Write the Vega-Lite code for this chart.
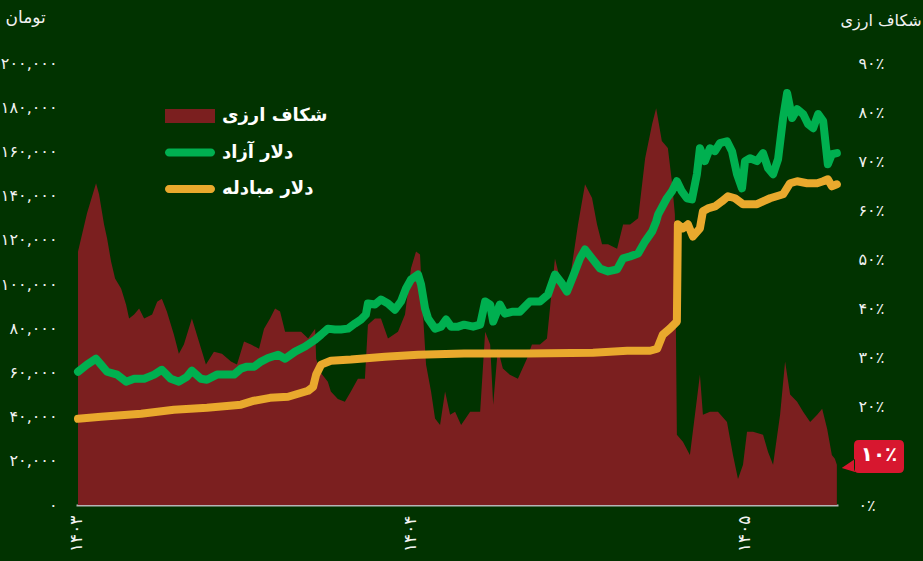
{
  "$schema": "https://vega.github.io/schema/vega-lite/v6.json",
  "width": 762,
  "height": 442,
  "autosize": {"type": "none"},
  "padding": {"left": 76, "top": 63, "right": 85, "bottom": 56},
  "background": "#013300",
  "config": {
    "view": {"stroke": null},
    "font": "DejaVu Sans",
    "axis": {"grid": false, "ticks": false, "domain": false, "labelColor": "#f2f2f2", "titleColor": "#f2f2f2", "labelFontSize": 16, "titleFontWeight": "normal", "labelFont": "DejaVu Sans", "titleFont": "DejaVu Sans"},
    "legend": {"labelFont": "DejaVu Sans"}
  },
  "datasets": {
    "gap": [
      {"t":1403.006,"v":51.6},{"t":1403.033,"v":59.4},{"t":1403.060,"v":65.5},{"t":1403.069,"v":63.3},{"t":1403.084,"v":57.1},{"t":1403.093,"v":54.3},{"t":1403.105,"v":49.6},{"t":1403.117,"v":46.1},{"t":1403.135,"v":44.1},{"t":1403.150,"v":40.8},{"t":1403.159,"v":38.0},{"t":1403.174,"v":38.8},{"t":1403.189,"v":40.0},{"t":1403.204,"v":38.0},{"t":1403.228,"v":38.8},{"t":1403.243,"v":41.4},{"t":1403.257,"v":42.0},{"t":1403.272,"v":39.4},{"t":1403.293,"v":34.7},{"t":1403.308,"v":30.8},{"t":1403.323,"v":32.7},{"t":1403.347,"v":38.0},{"t":1403.368,"v":33.3},{"t":1403.389,"v":28.6},{"t":1403.413,"v":31.2},{"t":1403.437,"v":30.8},{"t":1403.464,"v":29.2},{"t":1403.482,"v":28.6},{"t":1403.503,"v":33.3},{"t":1403.524,"v":32.7},{"t":1403.548,"v":31.8},{"t":1403.563,"v":35.9},{"t":1403.581,"v":38.0},{"t":1403.596,"v":40.0},{"t":1403.611,"v":39.4},{"t":1403.626,"v":35.3},{"t":1403.644,"v":35.3},{"t":1403.674,"v":35.3},{"t":1403.695,"v":33.9},{"t":1403.716,"v":35.9},{"t":1403.719,"v":29.8},{"t":1403.731,"v":27.1},{"t":1403.754,"v":25.1},{"t":1403.763,"v":23.1},{"t":1403.784,"v":21.6},{"t":1403.805,"v":21.0},{"t":1403.823,"v":23.1},{"t":1403.844,"v":25.7},{"t":1403.865,"v":25.7},{"t":1403.874,"v":36.7},{"t":1403.895,"v":38.0},{"t":1403.913,"v":38.0},{"t":1403.934,"v":33.9},{"t":1403.964,"v":35.3},{"t":1403.985,"v":38.8},{"t":1404.003,"v":48.2},{"t":1404.018,"v":51.6},{"t":1404.030,"v":51.0},{"t":1404.039,"v":38.8},{"t":1404.048,"v":28.6},{"t":1404.063,"v":23.1},{"t":1404.075,"v":17.6},{"t":1404.090,"v":16.3},{"t":1404.105,"v":23.1},{"t":1404.120,"v":18.4},{"t":1404.135,"v":19.0},{"t":1404.153,"v":16.3},{"t":1404.180,"v":19.0},{"t":1404.210,"v":19.0},{"t":1404.225,"v":35.3},{"t":1404.240,"v":32.7},{"t":1404.249,"v":20.4},{"t":1404.263,"v":31.8},{"t":1404.278,"v":27.8},{"t":1404.299,"v":26.5},{"t":1404.323,"v":25.7},{"t":1404.350,"v":29.8},{"t":1404.365,"v":32.7},{"t":1404.389,"v":32.7},{"t":1404.410,"v":33.9},{"t":1404.434,"v":50.2},{"t":1404.458,"v":43.5},{"t":1404.479,"v":46.1},{"t":1404.503,"v":57.1},{"t":1404.524,"v":65.3},{"t":1404.545,"v":62.5},{"t":1404.560,"v":57.1},{"t":1404.575,"v":53.1},{"t":1404.593,"v":53.1},{"t":1404.620,"v":52.2},{"t":1404.638,"v":57.1},{"t":1404.659,"v":57.1},{"t":1404.683,"v":58.4},{"t":1404.704,"v":70.6},{"t":1404.725,"v":77.6},{"t":1404.737,"v":80.8},{"t":1404.754,"v":74.1},{"t":1404.772,"v":72.7},{"t":1404.784,"v":65.9},{"t":1404.793,"v":59.2},{"t":1404.799,"v":14.3},{"t":1404.817,"v":12.9},{"t":1404.838,"v":10.2},{"t":1404.859,"v":21.6},{"t":1404.868,"v":26.5},{"t":1404.877,"v":18.4},{"t":1404.898,"v":19.0},{"t":1404.922,"v":19.0},{"t":1404.949,"v":16.9},{"t":1404.967,"v":10.2},{"t":1404.982,"v":5.3},{"t":1404.997,"v":8.2},{"t":1405.009,"v":14.9},{"t":1405.027,"v":14.9},{"t":1405.057,"v":14.3},{"t":1405.072,"v":10.8},{"t":1405.087,"v":8.2},{"t":1405.108,"v":18.4},{"t":1405.123,"v":29.2},{"t":1405.138,"v":22.5},{"t":1405.159,"v":21.0},{"t":1405.177,"v":19.0},{"t":1405.198,"v":16.9},{"t":1405.219,"v":18.4},{"t":1405.234,"v":19.6},{"t":1405.249,"v":15.5},{"t":1405.263,"v":10.2},{"t":1405.272,"v":9.4},{"t":1405.278,"v":8.2}
    ],
    "prices": [
      {"s":"دلار آزاد","t":1403.006,"v":60300},{"s":"دلار آزاد","t":1403.033,"v":63500},{"s":"دلار آزاد","t":1403.060,"v":66200},{"s":"دلار آزاد","t":1403.075,"v":63500},{"s":"دلار آزاد","t":1403.093,"v":60300},{"s":"دلار آزاد","t":1403.123,"v":59000},{"s":"دلار آزاد","t":1403.150,"v":55800},{"s":"دلار آزاد","t":1403.174,"v":57100},{"s":"دلار آزاد","t":1403.204,"v":57100},{"s":"دلار آزاد","t":1403.234,"v":59000},{"s":"دلار آزاد","t":1403.257,"v":61200},{"s":"دلار آزاد","t":1403.284,"v":57100},{"s":"دلار آزاد","t":1403.308,"v":55800},{"s":"دلار آزاد","t":1403.332,"v":58000},{"s":"دلار آزاد","t":1403.347,"v":60800},{"s":"دلار آزاد","t":1403.374,"v":57100},{"s":"دلار آزاد","t":1403.392,"v":56700},{"s":"دلار آزاد","t":1403.422,"v":59000},{"s":"دلار آزاد","t":1403.452,"v":59000},{"s":"دلار آزاد","t":1403.473,"v":59000},{"s":"دلار آزاد","t":1403.494,"v":61700},{"s":"دلار آزاد","t":1403.512,"v":62600},{"s":"دلار آزاد","t":1403.533,"v":62600},{"s":"دلار آزاد","t":1403.554,"v":64900},{"s":"دلار آزاد","t":1403.575,"v":66500},{"s":"دلار آزاد","t":1403.605,"v":68000},{"s":"دلار آزاد","t":1403.626,"v":66200},{"s":"دلار آزاد","t":1403.656,"v":69400},{"s":"دلار آزاد","t":1403.686,"v":71700},{"s":"دلار آزاد","t":1403.716,"v":74800},{"s":"دلار آزاد","t":1403.734,"v":77100},{"s":"دلار آزاد","t":1403.754,"v":79800},{"s":"دلار آزاد","t":1403.775,"v":79400},{"s":"دلار آزاد","t":1403.793,"v":79400},{"s":"دلار آزاد","t":1403.814,"v":79800},{"s":"دلار آزاد","t":1403.835,"v":82100},{"s":"دلار آزاد","t":1403.853,"v":83900},{"s":"دلار آزاد","t":1403.868,"v":86200},{"s":"دلار آزاد","t":1403.874,"v":91200},{"s":"دلار آزاد","t":1403.895,"v":90700},{"s":"دلار آزاد","t":1403.913,"v":93000},{"s":"دلار آزاد","t":1403.934,"v":91200},{"s":"دلار آزاد","t":1403.955,"v":88400},{"s":"دلار آزاد","t":1403.973,"v":92100},{"s":"دلار آزاد","t":1403.988,"v":98000},{"s":"دلار آزاد","t":1404.003,"v":102000},{"s":"دلار آزاد","t":1404.024,"v":104300},{"s":"دلار آزاد","t":1404.033,"v":99800},{"s":"دلار آزاد","t":1404.045,"v":88900},{"s":"دلار آزاد","t":1404.054,"v":84400},{"s":"دلار آزاد","t":1404.075,"v":79800},{"s":"دلار آزاد","t":1404.093,"v":80700},{"s":"دلار آزاد","t":1404.108,"v":83900},{"s":"دلار آزاد","t":1404.123,"v":80700},{"s":"دلار آزاد","t":1404.144,"v":80700},{"s":"دلار آزاد","t":1404.162,"v":81600},{"s":"دلار آزاد","t":1404.189,"v":80700},{"s":"دلار آزاد","t":1404.210,"v":81600},{"s":"دلار آزاد","t":1404.225,"v":92100},{"s":"دلار آزاد","t":1404.240,"v":90700},{"s":"دلار آزاد","t":1404.249,"v":83000},{"s":"دلار آزاد","t":1404.269,"v":90700},{"s":"دلار آزاد","t":1404.284,"v":86600},{"s":"دلار آزاد","t":1404.308,"v":87500},{"s":"دلار آزاد","t":1404.329,"v":87500},{"s":"دلار آزاد","t":1404.359,"v":92100},{"s":"دلار آزاد","t":1404.389,"v":92100},{"s":"دلار آزاد","t":1404.413,"v":95200},{"s":"دلار آزاد","t":1404.434,"v":104300},{"s":"دلار آزاد","t":1404.455,"v":100200},{"s":"دلار آزاد","t":1404.470,"v":96600},{"s":"دلار آزاد","t":1404.488,"v":103400},{"s":"دلار آزاد","t":1404.509,"v":111600},{"s":"دلار آزاد","t":1404.524,"v":115600},{"s":"دلار آزاد","t":1404.545,"v":111600},{"s":"دلار آزاد","t":1404.569,"v":107000},{"s":"دلار آزاد","t":1404.593,"v":105700},{"s":"دلار آزاد","t":1404.620,"v":106600},{"s":"دلار آزاد","t":1404.638,"v":111600},{"s":"دلار آزاد","t":1404.659,"v":112500},{"s":"دلار آزاد","t":1404.683,"v":113800},{"s":"دلار آزاد","t":1404.704,"v":119300},{"s":"دلار آزاد","t":1404.725,"v":123800},{"s":"دلار آزاد","t":1404.737,"v":128300},{"s":"دلار آزاد","t":1404.743,"v":131500},{"s":"دلار آزاد","t":1404.769,"v":138800},{"s":"دلار آزاد","t":1404.784,"v":141900},{"s":"دلار آزاد","t":1404.799,"v":146500},{"s":"دلار آزاد","t":1404.814,"v":141900},{"s":"دلار آزاد","t":1404.829,"v":138800},{"s":"دلار آزاد","t":1404.844,"v":138300},{"s":"دلار آزاد","t":1404.859,"v":149700},{"s":"دلار آزاد","t":1404.868,"v":161400},{"s":"دلار آزاد","t":1404.883,"v":155600},{"s":"دلار آزاد","t":1404.898,"v":161400},{"s":"دلار آزاد","t":1404.913,"v":160100},{"s":"دلار آزاد","t":1404.928,"v":163700},{"s":"دلار آزاد","t":1404.949,"v":164600},{"s":"دلار آزاد","t":1404.964,"v":160100},{"s":"دلار آزاد","t":1404.979,"v":149700},{"s":"دلار آزاد","t":1404.994,"v":143300},{"s":"دلار آزاد","t":1405.003,"v":155600},{"s":"دلار آزاد","t":1405.018,"v":156900},{"s":"دلار آزاد","t":1405.039,"v":155600},{"s":"دلار آزاد","t":1405.057,"v":159200},{"s":"دلار آزاد","t":1405.072,"v":152400},{"s":"دلار آزاد","t":1405.087,"v":149700},{"s":"دلار آزاد","t":1405.102,"v":156500},{"s":"دلار آزاد","t":1405.117,"v":175100},{"s":"دلار آزاد","t":1405.129,"v":186400},{"s":"دلار آزاد","t":1405.144,"v":175100},{"s":"دلار آزاد","t":1405.159,"v":179100},{"s":"دلار آزاد","t":1405.177,"v":176900},{"s":"دلار آزاد","t":1405.192,"v":172300},{"s":"دلار آزاد","t":1405.207,"v":170500},{"s":"دلار آزاد","t":1405.222,"v":176900},{"s":"دلار آزاد","t":1405.237,"v":173700},{"s":"دلار آزاد","t":1405.251,"v":154200},{"s":"دلار آزاد","t":1405.263,"v":158700},{"s":"دلار آزاد","t":1405.278,"v":159200},
      {"s":"دلار مبادله","t":1403.006,"v":39000},{"s":"دلار مبادله","t":1403.075,"v":39900},{"s":"دلار مبادله","t":1403.195,"v":41300},{"s":"دلار مبادله","t":1403.293,"v":43100},{"s":"دلار مبادله","t":1403.392,"v":44000},{"s":"دلار مبادله","t":1403.494,"v":45400},{"s":"دلار مبادله","t":1403.533,"v":47200},{"s":"دلار مبادله","t":1403.581,"v":48500},{"s":"دلار مبادله","t":1403.635,"v":49000},{"s":"دلار مبادله","t":1403.695,"v":51700},{"s":"دلار مبادله","t":1403.710,"v":53500},{"s":"دلار مبادله","t":1403.719,"v":59000},{"s":"دلار مبادله","t":1403.734,"v":63500},{"s":"دلار مبادله","t":1403.763,"v":65300},{"s":"دلار مبادله","t":1403.823,"v":65800},{"s":"دلار مبادله","t":1403.925,"v":67100},{"s":"دلار مبادله","t":1404.024,"v":68000},{"s":"دلار مبادله","t":1404.162,"v":68500},{"s":"دلار مبادله","t":1404.350,"v":68500},{"s":"دلار مبادله","t":1404.548,"v":68900},{"s":"دلار مبادله","t":1404.650,"v":69800},{"s":"دلار مبادله","t":1404.719,"v":69800},{"s":"دلار مبادله","t":1404.740,"v":70700},{"s":"دلار مبادله","t":1404.757,"v":77100},{"s":"دلار مبادله","t":1404.778,"v":79800},{"s":"دلار مبادله","t":1404.799,"v":83000},{"s":"دلار مبادله","t":1404.802,"v":127000},{"s":"دلار مبادله","t":1404.817,"v":125200},{"s":"دلار مبادله","t":1404.832,"v":127000},{"s":"دلار مبادله","t":1404.847,"v":121500},{"s":"دلار مبادله","t":1404.868,"v":125200},{"s":"دلار مبادله","t":1404.877,"v":132900},{"s":"دلار مبادله","t":1404.892,"v":134200},{"s":"دلار مبادله","t":1404.913,"v":135100},{"s":"دلار مبادله","t":1404.934,"v":137400},{"s":"دلار مبادله","t":1404.952,"v":139700},{"s":"دلار مبادله","t":1404.973,"v":138800},{"s":"دلار مبادله","t":1404.997,"v":136100},{"s":"دلار مبادله","t":1405.039,"v":136100},{"s":"دلار مبادله","t":1405.057,"v":137400},{"s":"دلار مبادله","t":1405.078,"v":138800},{"s":"دلار مبادله","t":1405.117,"v":140600},{"s":"دلار مبادله","t":1405.138,"v":145600},{"s":"دلار مبادله","t":1405.159,"v":146500},{"s":"دلار مبادله","t":1405.189,"v":145600},{"s":"دلار مبادله","t":1405.219,"v":145600},{"s":"دلار مبادله","t":1405.237,"v":146500},{"s":"دلار مبادله","t":1405.251,"v":147400},{"s":"دلار مبادله","t":1405.263,"v":144200},{"s":"دلار مبادله","t":1405.278,"v":145100}
    ],
    "badge": [{"t": 1405.2814, "v": 10, "label": "۱۰٪"}]
  },
  "encoding": {
    "x": {
      "field": "t", "type": "quantitative",
      "scale": {"domain": [1403, 1405.2814], "nice": false, "zero": false},
      "axis": {"orient": "bottom", "values": [1403, 1404, 1405], "format": "d", "labelExpr": "replace(replace(replace(replace(replace(replace(replace(replace(replace(replace(datum.label,regexp('0','g'),'۰'),regexp('1','g'),'۱'),regexp('2','g'),'۲'),regexp('3','g'),'۳'),regexp('4','g'),'۴'),regexp('5','g'),'۵'),regexp('6','g'),'۶'),regexp('7','g'),'۷'),regexp('8','g'),'۸'),regexp('9','g'),'۹')", "labelAngle": 270, "labelAlign": "right", "labelBaseline": "middle", "labelPadding": 10, "labelFontSize": 17, "labelFlush": false, "labelOverlap": false, "domain": true, "domainColor": "#b5b5b5", "domainWidth": 2, "title": null}
    }
  },
  "layer": [
    {
      "data": {"name": "gap"},
      "mark": {"type": "area", "interpolate": "linear", "opacity": 1},
      "encoding": {
        "y": {"field": "v", "type": "quantitative", "scale": {"domain": [0, 90], "nice": false},
          "axis": {"orient": "right", "zindex": 0, "values": [0,20,30,40,50,60,70,80,90], "format": "d", "labelExpr": "replace(replace(replace(replace(replace(replace(replace(replace(replace(replace(datum.label,regexp('0','g'),'۰'),regexp('1','g'),'۱'),regexp('2','g'),'۲'),regexp('3','g'),'۳'),regexp('4','g'),'۴'),regexp('5','g'),'۵'),regexp('6','g'),'۶'),regexp('7','g'),'۷'),regexp('8','g'),'۸'),regexp('9','g'),'۹') + '٪'", "labelAlign": "left", "labelPadding": 20, "title": "شکاف ارزی", "titleAngle": 0, "titleAlign": "left", "titleBaseline": "middle", "titleX": 2, "titleY": -43, "titleFontSize": 16}},
        "color": {"datum": "شکاف ارزی", "type": "nominal",
          "scale": {"domain": ["شکاف ارزی", "دلار آزاد", "دلار مبادله"], "range": ["#7b1f1f", "#00b050", "#e9a92d"]},
          "legend": {"orient": "none", "legendX": 89, "legendY": 43, "direction": "vertical", "title": null, "labelColor": "#ffffff", "labelFontSize": 18, "labelFontWeight": "bold", "symbolSize": 400, "labelOffset": 37, "rowPadding": 17.5, "labelLimit": 300,
            "encode": {"symbols": {"update": {"shape": {"signal": "datum.value === 'شکاف ارزی' ? 'M-1,-0.7H4V0.7H-1Z' : 'M-0.6,-0.4H3.6A0.4,0.4 0 0 1 3.6,0.4H-0.6A0.4,0.4 0 0 1 -0.6,-0.4Z'"}, "fill": {"scale": "color", "field": "value"}, "stroke": {"value": "transparent"}, "strokeWidth": {"value": 0}, "opacity": {"value": 1}}}}}}
      }
    },
    {
      "data": {"name": "prices"},
      "mark": {"type": "line", "strokeWidth": 8, "strokeCap": "round", "strokeJoin": "round"},
      "encoding": {
        "y": {"field": "v", "type": "quantitative", "scale": {"domain": [0, 200000], "nice": false},
          "axis": {"orient": "left", "values": [0,20000,40000,60000,80000,100000,120000,140000,160000,180000,200000], "format": ",d", "labelExpr": "replace(replace(replace(replace(replace(replace(replace(replace(replace(replace(datum.label,regexp('0','g'),'۰'),regexp('1','g'),'۱'),regexp('2','g'),'۲'),regexp('3','g'),'۳'),regexp('4','g'),'۴'),regexp('5','g'),'۵'),regexp('6','g'),'۶'),regexp('7','g'),'۷'),regexp('8','g'),'۸'),regexp('9','g'),'۹')", "labelPadding": 19, "title": "تومان", "titleAngle": 0, "titleAlign": "left", "titleBaseline": "middle", "titleX": -71, "titleY": -46, "titleFontSize": 17}},
        "color": {"field": "s", "type": "nominal",
          "scale": {"domain": ["شکاف ارزی", "دلار آزاد", "دلار مبادله"], "range": ["#7b1f1f", "#00b050", "#e9a92d"]},
          "legend": {"orient": "none", "legendX": 89, "legendY": 43, "direction": "vertical", "title": null, "labelColor": "#ffffff", "labelFontSize": 18, "labelFontWeight": "bold", "symbolSize": 400, "labelOffset": 37, "rowPadding": 17.5, "labelLimit": 300,
            "encode": {"symbols": {"update": {"shape": {"signal": "datum.value === 'شکاف ارزی' ? 'M-1,-0.7H4V0.7H-1Z' : 'M-0.6,-0.4H3.6A0.4,0.4 0 0 1 3.6,0.4H-0.6A0.4,0.4 0 0 1 -0.6,-0.4Z'"}, "fill": {"scale": "color", "field": "value"}, "stroke": {"value": "transparent"}, "strokeWidth": {"value": 0}, "opacity": {"value": 1}}}}}}
      }
    },
    {
      "data": {"name": "badge"},
      "mark": {"type": "point", "shape": "M0.21,-0.16H0.61Q0.66,-0.16 0.66,-0.11V0.12Q0.66,0.17 0.61,0.17H0.21Q0.16,0.17 0.16,0.12V-0.11Q0.16,-0.16 0.21,-0.16Z M0.17,0.03L0.037,0.12L0.17,0.16Z", "size": 40000, "filled": true, "color": "#d7172f", "opacity": 1},
      "encoding": {"y": {"field": "v", "type": "quantitative", "scale": {"domain": [0, 90], "nice": false}, "axis": null}}
    },
    {
      "data": {"name": "badge"},
      "mark": {"type": "text", "dx": 41, "dy": -1, "align": "center", "baseline": "middle", "fontSize": 20, "fontWeight": "bold", "color": "#ffffff", "font": "DejaVu Sans"},
      "encoding": {"y": {"field": "v", "type": "quantitative", "scale": {"domain": [0, 90], "nice": false}, "axis": null}, "text": {"field": "label"}}
    }
  ],
  "resolve": {"scale": {"y": "independent"}}
}
